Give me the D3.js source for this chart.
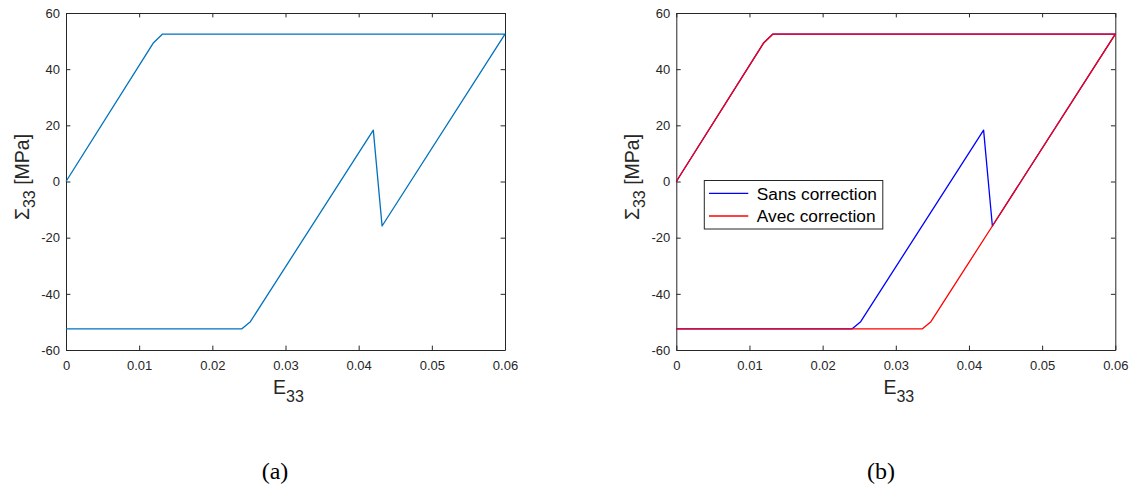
<!DOCTYPE html>
<html><head><meta charset="utf-8">
<script src="https://cdn.jsdelivr.net/npm/d3@7"></script>
<style>body{margin:0;background:#fff}svg{display:block}</style>
</head><body>
<svg id="c" width="1131" height="489"></svg>
<script>
// Data
const strainSans = [0, 0.0119, 0.0132, 0.06, 0.0432, 0.0420, 0.0252, 0.0240, 0];
const stressSans = [0, 49.2, 52.5, 52.5, -15.85, 18.3, -49.9, -52.5, -52.5];
const strainAvec = [0, 0.0119, 0.0132, 0.06, 0.0432, 0.0348, 0.0336, 0];
const stressAvec = [0, 49.2, 52.5, 52.5, -15.85, -49.9, -52.5, -52.5];
const xTicks = [0, 0.01, 0.02, 0.03, 0.04, 0.05, 0.06];
const xTickLabels = ["0", "0.01", "0.02", "0.03", "0.04", "0.05", "0.06"];
const yTicks = [-60, -40, -20, 0, 20, 40, 60];
const yTickLabels = ["-60", "-40", "-20", "0", "20", "40", "60"];
const legendLabels = ["Sans correction", "Avec correction"];
const captions = ["(a)", "(b)"];

const svg = d3.select("#c");
const axCol = "#262626";
const font = "'Liberation Sans', Arial, sans-serif";

function panel(x0, x1, series, caption, capX, legend) {
  const y0 = 13, y1 = 350;
  const x = d3.scaleLinear().domain([0, 0.06]).range([x0, x1]);
  const y = d3.scaleLinear().domain([-60, 60]).range([y1, y0]);
  const g = svg.append("g");
  const fmtX = d => xTickLabels[xTicks.indexOf(d)];
  const fmtY = d => yTickLabels[yTicks.indexOf(d)];
  const tl = 4.4;
  const ax = [
    g.append("g").attr("transform", `translate(0,${y1})`).call(d3.axisBottom(x).tickValues(xTicks).tickFormat(fmtX).tickSizeInner(-tl).tickSizeOuter(0).tickPadding(10.5)),
    g.append("g").attr("transform", `translate(0,${y0})`).call(d3.axisTop(x).tickValues(xTicks).tickFormat("").tickSizeInner(-tl).tickSizeOuter(0)),
    g.append("g").attr("transform", `translate(${x0},0)`).call(d3.axisLeft(y).tickValues(yTicks).tickFormat(fmtY).tickSizeInner(-tl).tickSizeOuter(0).tickPadding(6)),
    g.append("g").attr("transform", `translate(${x1},0)`).call(d3.axisRight(y).tickValues(yTicks).tickFormat("").tickSizeInner(-tl).tickSizeOuter(0))
  ];
  ax.forEach(a => {
    a.select(".domain").attr("stroke", axCol).attr("stroke-width", 1);
    a.selectAll(".tick line").attr("stroke", axCol).attr("stroke-width", 1);
    a.selectAll(".tick text").attr("fill", axCol).attr("font-family", font).attr("font-size", 13);
  });
  ax[0].selectAll(".tick text").attr("dy", "0.71em");
  const line = d3.line().x(d => x(d[0])).y(d => y(d[1]));
  series.forEach(s => {
    const pts = s.xs.map((v, i) => [v, s.ys[i]]);
    g.append("path").attr("d", line(pts)).attr("fill", "none")
      .attr("stroke", s.color).attr("stroke-width", 1.3).attr("stroke-linejoin", "round");
  });
  // axis labels
  const cx = (x0 + x1) / 2;
  const xl = g.append("text").attr("x", cx + 3).attr("y", 393.5).attr("text-anchor", "middle")
    .attr("font-family", font).attr("font-size", 19.5).attr("fill", axCol);
  xl.append("tspan").text("E");
  xl.append("tspan").attr("font-size", 16).attr("dy", 8).text("33");
  const yl = g.append("text").attr("transform", `translate(${x0 - 37},177) rotate(-90)`)
    .attr("text-anchor", "middle").attr("font-family", font).attr("font-size", 19.5).attr("fill", axCol);
  yl.append("tspan").text("Σ");
  yl.append("tspan").attr("font-size", 16).attr("dy", 6).text("33");
  yl.append("tspan").attr("dy", -6).text(" [MPa]");
  // caption
  g.append("text").attr("x", capX).attr("y", 479).attr("text-anchor", "middle")
    .attr("font-family", "'Liberation Serif', 'Times New Roman', serif").attr("font-size", 24).attr("fill", "#000").text(caption);
  if (legend) {
    const lx = x0 + 28, ly = 180.5, lw = 178.5, lh = 48.5;
    const lg = g.append("g");
    lg.append("rect").attr("x", lx).attr("y", ly).attr("width", lw).attr("height", lh)
      .attr("fill", "#fff").attr("stroke", axCol).attr("stroke-width", 1);
    series.forEach((s, i) => {
      const yy = ly + 12.8 + i * 22.7;
      lg.append("line").attr("x1", lx + 4.7).attr("x2", lx + 44).attr("y1", yy).attr("y2", yy)
        .attr("stroke", s.color).attr("stroke-width", 1.3);
      lg.append("text").attr("x", lx + 52.5).attr("y", yy).attr("dy", "0.36em")
        .attr("font-family", font).attr("font-size", 17.3).attr("fill", "#000").text(legendLabels[i]);
    });
  }
}

panel(66, 505, [{xs: strainSans, ys: stressSans, color: "#0072BD"}], captions[0], 275, false);
panel(676.3, 1115.3, [
  {xs: strainSans, ys: stressSans, color: "#0000FF"},
  {xs: strainAvec, ys: stressAvec, color: "#FF0000"}
], captions[1], 881, true);
</script>
</body></html>
